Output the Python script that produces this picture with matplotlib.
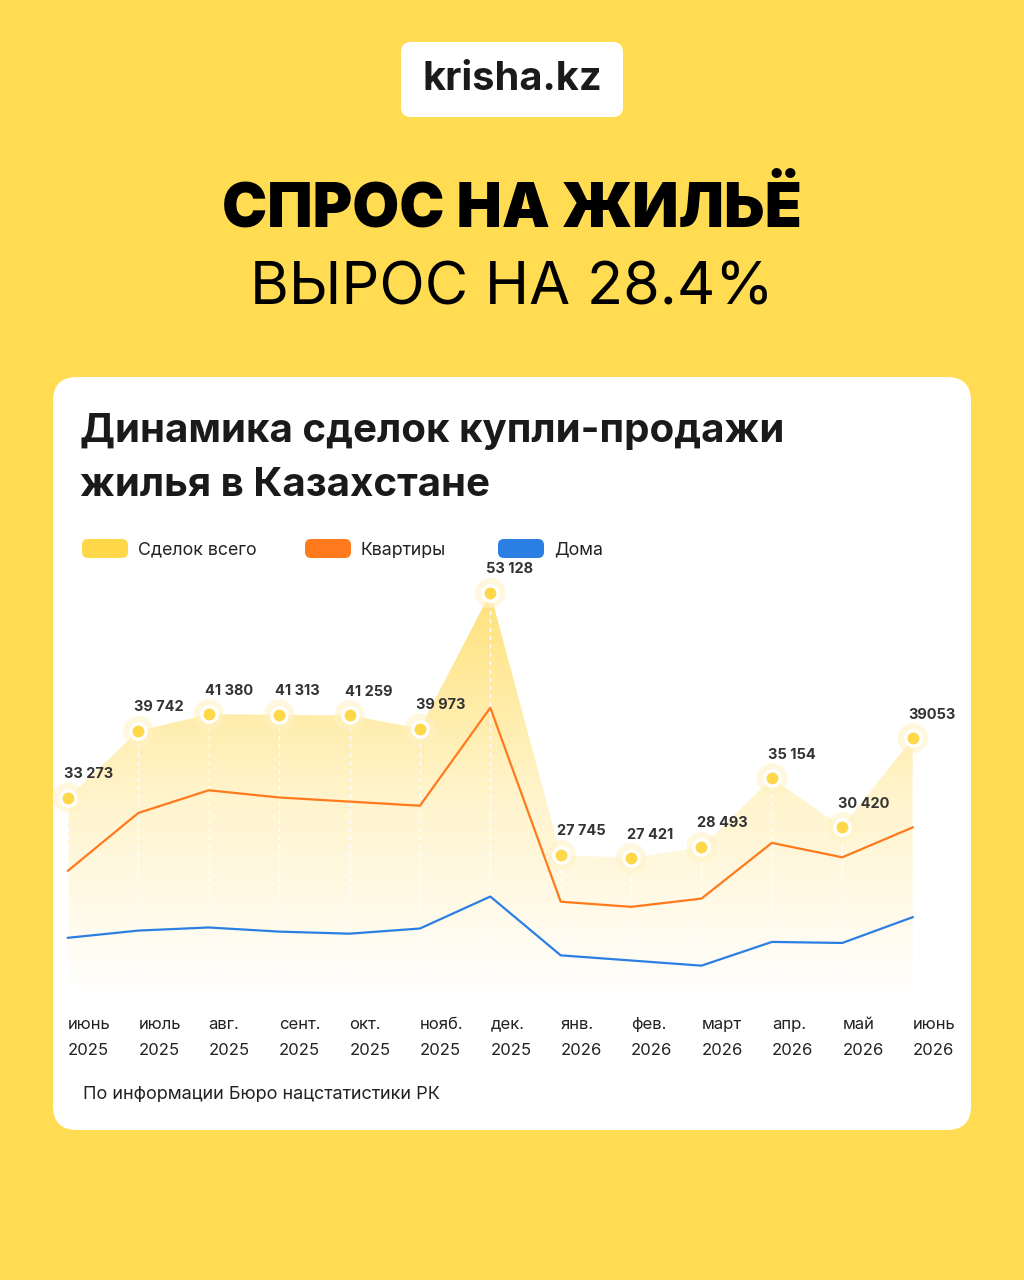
import numpy as np
import matplotlib
matplotlib.use("Agg")
import matplotlib.pyplot as plt
from matplotlib.patches import FancyBboxPatch
from matplotlib.colors import LinearSegmentedColormap

plt.rcParams['font.family'] = ['Inter', 'DejaVu Sans']

# data
months = ["июнь\n2025", "июль\n2025", "авг.\n2025", "сент.\n2025", "окт.\n2025",
          "нояб.\n2025", "дек.\n2025", "янв.\n2026", "фев.\n2026", "март\n2026",
          "апр.\n2026", "май\n2026", "июнь\n2026"]
total = [33273, 39742, 41380, 41313, 41259, 39973, 53128, 27745, 27421, 28493, 35154, 30420, 39053]
total_labels = ["33 273", "39 742", "41 380", "41 313", "41 259", "39 973", "53 128",
                "27 745", "27 421", "28 493", "35 154", "30 420", "39053"]
# flats and houses have no labels; estimated in the same (stylised) scale
flats = [26200, 31800, 34000, 33300, 32900, 32500, 42000, 23200, 22700, 23500, 28900, 27500, 30400]
houses = [19700, 20400, 20700, 20300, 20100, 20600, 23700, 18000, 17500, 17000, 19300, 19200, 21700]

BG = '#FFDC52'
YELLOW = '#FFD84A'
ORANGE = '#FF7A1C'
BLUE = '#2B7FE3'
DARK = '#1A1A1A'

fig = plt.figure(figsize=(10.24, 12.8), dpi=100)
fig.patch.set_facecolor(BG)

# full-size background axes in pixel coordinates
bg = fig.add_axes([0, 0, 1, 1])
bg.set_xlim(0, 1024)
bg.set_ylim(1280, 0)
bg.axis('off')

bg.add_patch(FancyBboxPatch((401, 42), 222, 75, boxstyle="round,pad=0,rounding_size=10",
                            fc='white', ec='none'))
bg.text(512, 80, "krisha.kz", ha='center', va='center', fontsize=28.7, fontweight='bold', color=DARK)

bg.text(512, 210, "СПРОС НА ЖИЛЬЁ", ha='center', va='center', fontsize=43.5,
        fontweight='black', color='black')
bg.text(512, 289, "ВЫРОС НА 28.4%", ha='center', va='center', fontsize=42.8,
        fontweight='normal', color='black')

# white card
bg.add_patch(FancyBboxPatch((53, 377), 918, 753, boxstyle="round,pad=0,rounding_size=24",
                            fc='white', ec='none'))
bg.text(80, 432, "Динамика сделок купли-продажи", ha='left', va='center', fontsize=29,
        fontweight='bold', color=DARK)
bg.text(80, 485, "жилья в Казахстане", ha='left', va='center', fontsize=29,
        fontweight='bold', color=DARK)

# legend pills
for px, col, name in [(82, YELLOW, "Сделок всего"), (305, ORANGE, "Квартиры"), (498, BLUE, "Дома")]:
    bg.add_patch(FancyBboxPatch((px, 539), 46, 19, boxstyle="round,pad=0,rounding_size=6",
                                fc=col, ec='none'))
    bg.text(px + 56, 550, name, ha='left', va='center', fontsize=12.8, color='#222222')

bg.text(83, 1094, "По информации Бюро нацстатистики РК", ha='left', va='center',
        fontsize=13, color='#222222')

# chart
ax = fig.add_axes([0.0526, 0.2203, 0.8868, 0.3422])
ax.set_facecolor('none')
x = np.arange(len(months))
ylo, yhi = 13864, 56318

# gradient area under total
poly = ax.fill_between(x, total, ylo, facecolor='none', edgecolor='none')
cmap = LinearSegmentedColormap.from_list('g', ['#FFFFFF', '#FFF4CC', '#FFE27A'])
grad = np.linspace(0, 1, 256).reshape(-1, 1)
im = ax.imshow(grad, extent=[0, 12, ylo, max(total)], origin='lower', aspect='auto',
               cmap=cmap, zorder=1)
im.set_clip_path(poly.get_paths()[0], transform=ax.transData)
ax.set_xlim(-0.2, 12.7)
ax.set_ylim(ylo, yhi)

ax.vlines(x, ylo, total, colors='white', linestyles=(0, (3, 3)), lw=1, zorder=2)
ax.plot(x, flats, color=ORANGE, lw=1.6, zorder=3)
ax.plot(x, houses, color=BLUE, lw=1.6, zorder=3)

ax.scatter(x, total, s=480, color='#FFF3C4', alpha=0.55, edgecolors='none', zorder=4, clip_on=False)
ax.plot(x, total, linestyle='none', marker='o', markersize=11, markerfacecolor=YELLOW,
        markeredgecolor='white', markeredgewidth=2.4, zorder=5, clip_on=False)

for xi, v, lab in zip(x, total, total_labels):
    ax.annotate(lab, (xi, v), xytext=(-3, 17), textcoords='offset points', ha='left',
                va='center', fontsize=10.5, fontweight='bold', color='#333333', zorder=6)

ax.set_xticks(x)
ax.set_xticklabels(months, ha='left', fontsize=12, color='#222222', linespacing=1.9)
ax.tick_params(axis='x', length=0, pad=13.5)
ax.set_yticks([])
for s in ax.spines.values():
    s.set_visible(False)

fig.savefig("out.png", dpi=100, facecolor=BG)
